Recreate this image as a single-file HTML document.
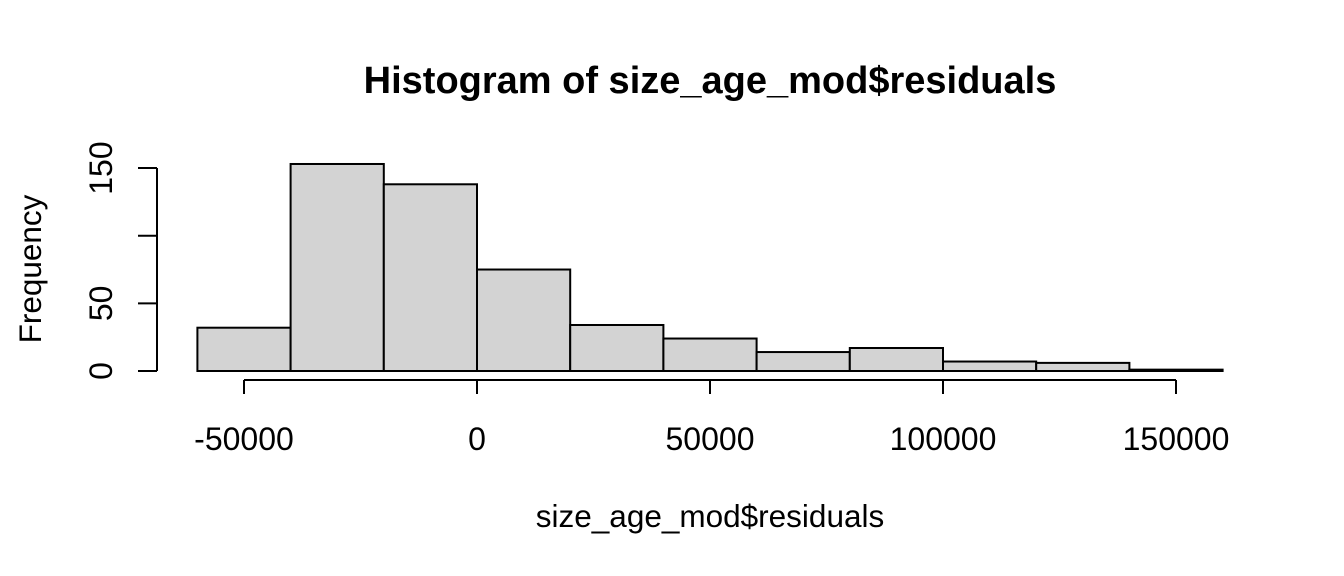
<!DOCTYPE html>
<html><head><meta charset="utf-8"><style>
html,body{margin:0;padding:0;background:#fff;}
svg{display:block;font-family:"Liberation Sans",Arial,sans-serif;}
</style></head><body>
<svg id="chart" width="1344" height="576" viewBox="0 0 1344 576">
<text x="710" y="93" text-anchor="middle" font-size="38" font-weight="bold">Histogram of size_age_mod$residuals</text>
<text x="710" y="527" text-anchor="middle" font-size="31.5">size_age_mod$residuals</text>
<text transform="translate(41,269) rotate(-90)" text-anchor="middle" font-size="31.5">Frequency</text>
<g id="bars"></g>
<g id="xaxis"></g>
<g id="yaxis"></g>
</svg>
<script>
const binEdges=[-60000,-40000,-20000,0,20000,40000,60000,80000,100000,120000,140000,160000];
const counts=[32,153,138,75,34,24,14,17,7,6,1];
const xTicks=[-50000,0,50000,100000,150000];
const xTickLabels=["-50000","0","50000","100000","150000"];
const yTicks=[0,50,100,150];
const yTickLabels=["0","50","","150"];
const NS="http://www.w3.org/2000/svg";
function sx(v){return 477+v*(233/50000);}
function sy(v){return 371-v*1.353;}
function mk(tag,attrs,parent){const e=document.createElementNS(NS,tag);for(const k in attrs)e.setAttribute(k,attrs[k]);parent.appendChild(e);return e;}
const bars=document.getElementById('bars');
counts.forEach((c,i)=>{
  const x0=sx(binEdges[i]),x1=sx(binEdges[i+1]);
  const r=mk('rect',{x:x0,y:sy(c),width:x1-x0,height:sy(0)-sy(c),fill:'#d3d3d3',stroke:'#000','stroke-width':2},bars);
  
  
});
const xa=document.getElementById('xaxis');
mk('line',{x1:sx(xTicks[0]),x2:sx(xTicks[xTicks.length-1]),y1:380,y2:380,stroke:'#000','stroke-width':2},xa);
xTicks.forEach((t,i)=>{
  mk('line',{x1:sx(t),x2:sx(t),y1:380,y2:394,stroke:'#000','stroke-width':2},xa);
  const tx=mk('text',{x:sx(t),y:450,'text-anchor':'middle','font-size':32},xa);
  tx.textContent=xTickLabels[i];
  
  
});
const ya=document.getElementById('yaxis');
mk('line',{x1:157,x2:157,y1:sy(yTicks[0]),y2:sy(yTicks[yTicks.length-1]),stroke:'#000','stroke-width':2},ya);
yTicks.forEach((t,i)=>{
  mk('line',{x1:138,x2:157,y1:sy(t),y2:sy(t),stroke:'#000','stroke-width':2},ya);
  if(yTickLabels[i]){
    const tx=mk('text',{'text-anchor':'middle','font-size':32,transform:'translate(112,'+sy(t)+') rotate(-90)'},ya);
    tx.textContent=yTickLabels[i];
    
    
  }
});
</script>
</body></html>
